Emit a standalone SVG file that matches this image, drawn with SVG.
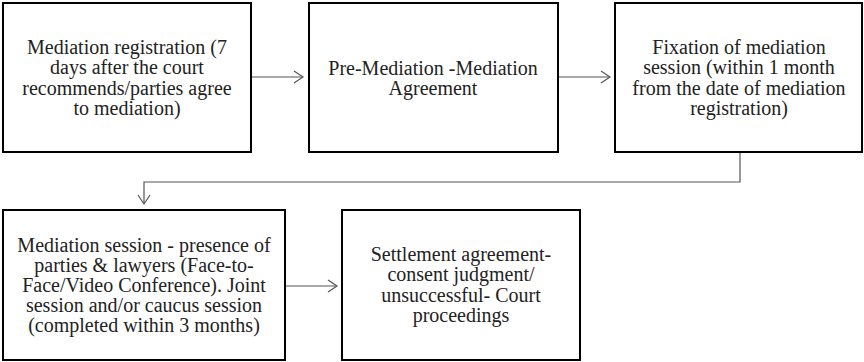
<svg xmlns="http://www.w3.org/2000/svg" width="864" height="362" viewBox="0 0 864 362">
<style>
.box{fill:#fff;stroke:#000;stroke-width:2}
.t{font-family:"Liberation Serif","Times New Roman",serif;font-size:20px;fill:#222;text-anchor:middle}
.c{fill:none;stroke:#555;stroke-width:1.2}
</style>
<defs>
<marker id="ah" markerWidth="12" markerHeight="14" refX="10" refY="7" orient="auto" markerUnits="userSpaceOnUse">
<path d="M1,1 L10,7 L1,13" fill="none" stroke="#555" stroke-width="1.2"/>
</marker>
</defs>
<rect width="864" height="362" fill="#fff"/>
<g id="connectors">
<path class="c" d="M252,77 H303" marker-end="url(#ah)"/>
<path class="c" d="M558,77 H610" marker-end="url(#ah)"/>
<path class="c" d="M740,152 V182 H144 V204" marker-end="url(#ah)"/>
<path class="c" d="M285,286 H337" marker-end="url(#ah)"/>
</g>
<g id="n1">
<rect class="box" x="3" y="3" width="248" height="149"/>
<text class="t"><tspan x="127" y="54">Mediation registration (7</tspan><tspan x="127" y="74">days after the court</tspan><tspan x="127" y="95">recommends/parties agree</tspan><tspan x="127" y="115">to mediation)</tspan></text>
</g>
<g id="n2">
<rect class="box" x="309" y="3" width="249" height="149"/>
<text class="t"><tspan x="433" y="75">Pre-Mediation -Mediation</tspan><tspan x="433" y="95">Agreement</tspan></text>
</g>
<g id="n3">
<rect class="box" x="615" y="3" width="247" height="149"/>
<text class="t"><tspan x="739" y="54">Fixation of mediation</tspan><tspan x="739" y="74">session (within 1 month</tspan><tspan x="739" y="95">from the date of mediation</tspan><tspan x="739" y="115">registration)</tspan></text>
</g>
<g id="n4">
<rect class="box" x="3" y="210" width="282" height="150"/>
<text class="t"><tspan x="144" y="252">Mediation session - presence of</tspan><tspan x="144" y="272">parties &amp; lawyers (Face-to-</tspan><tspan x="144" y="292">Face/Video Conference). Joint</tspan><tspan x="144" y="312">session and/or caucus session</tspan><tspan x="144" y="332">(completed within 3 months)</tspan></text>
</g>
<g id="n5">
<rect class="box" x="342" y="210" width="238" height="150"/>
<text class="t"><tspan x="461" y="261">Settlement agreement-</tspan><tspan x="461" y="281">consent judgment/</tspan><tspan x="461" y="302">unsuccessful- Court</tspan><tspan x="461" y="322">proceedings</tspan></text>
</g>
</svg>
